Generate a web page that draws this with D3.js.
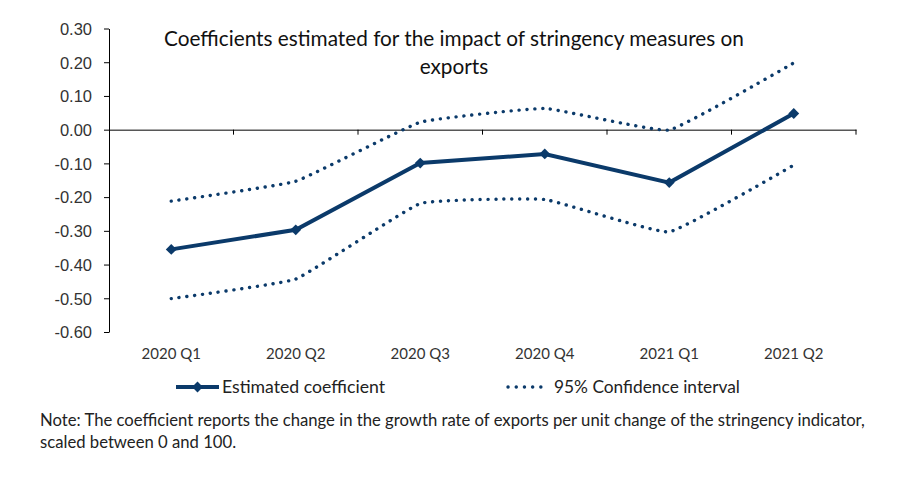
<!DOCTYPE html>
<html>
<head>
<meta charset="utf-8">
<script src="https://cdn.jsdelivr.net/npm/d3@7"></script>
<style>
  body { margin: 0; background: #fff; }
  svg { display: block; font-family: Lato, "Open Sans", sans-serif; }
</style>
</head>
<body>
<svg width="897" height="482"></svg>
<script>
// Chart data
const quarters = ["2020 Q1", "2020 Q2", "2020 Q3", "2020 Q4", "2021 Q1", "2021 Q2"];
const coefficient = [-0.355, -0.297, -0.099, -0.072, -0.157, 0.048];
const upperCI = [-0.212, -0.153, 0.022, 0.063, -0.001, 0.198];
const lowerCI = [-0.501, -0.443, -0.219, -0.207, -0.303, -0.105];
const yTicks = [-0.6, -0.5, -0.4, -0.3, -0.2, -0.1, 0, 0.1, 0.2, 0.3];

const navy = "#0b3a6a";
const chart = d3.select("svg");

// shrink/grow a text element's font so it spans the wanted width
function fitWidth(sel, target) {
  const size = parseFloat(sel.style("font-size"));
  const w = sel.node().getComputedTextLength();
  sel.style("font-size", (size * target / w).toFixed(2) + "px");
}

// Scales
const xScale = d3.scaleBand()
                 .domain(quarters)
                 .range([109, 856]);

const yScale = d3.scaleLinear()
                 .domain([-0.6, 0.3])
                 .range([332, 28.5]);

const xMid = d => xScale(d) + xScale.bandwidth() / 2;

// Y axis (hyphen minus like the original)
const yAxis = d3.axisLeft(yScale)
                .tickValues(yTicks)
                .tickFormat(d => d3.format(".2f")(d).replace("\u2212", "-"))
                .tickSize(5)
                .tickSizeOuter(0)
                .tickPadding(12);

const yG = chart.append("g")
    .attr("transform", "translate(109,0)")
    .call(yAxis);
yG.select(".domain").attr("stroke", "#000");
yG.selectAll(".tick line").attr("stroke", "#000");
yG.selectAll("text")
    .style("font-size", "16.5px")
    .attr("fill", "#333")
    .attr("dy", "0.35em");

// X axis drawn through zero, labels at the bottom
const xAxis = d3.axisBottom(xScale)
                .tickSize(5)
                .tickSizeOuter(0)
                .tickFormat("");

const xG = chart.append("g")
    .attr("transform", `translate(0,${yScale(0)})`)
    .call(xAxis);
xG.select(".domain").attr("stroke", "#000");
// ticks sit on the band boundaries
xG.selectAll(".tick").attr("transform", d => `translate(${xScale(d) + xScale.bandwidth()},0)`);
xG.selectAll(".tick line").attr("stroke", "#000");

chart.append("g")
  .selectAll("text")
  .data(quarters)
  .enter()
  .append("text")
    .text(d => d)
    .attr("x", d => xMid(d))
    .attr("y", 359)
    .style("text-anchor", "middle")
    .style("font-size", "15px")
    .attr("fill", "#333");

// Lines: confidence bands lightly smoothed, coefficient straight
const smooth = d3.line()
                 .x((d, i) => xMid(quarters[i]))
                 .y(d => yScale(d))
                 .curve(d3.curveCardinal.tension(0.7));

const straight = d3.line()
                   .x((d, i) => xMid(quarters[i]))
                   .y(d => yScale(d));

[upperCI, lowerCI].forEach(series => {
  chart.append("path")
      .attr("d", smooth(series))
      .attr("fill", "none")
      .attr("stroke", navy)
      .attr("stroke-width", 3.4)
      .attr("stroke-linecap", "round")
      .attr("stroke-dasharray", "0.1 7.8");
});

chart.append("path")
    .attr("d", straight(coefficient))
    .attr("fill", "none")
    .attr("stroke", navy)
    .attr("stroke-width", 4);

const diamond = d3.symbol().type(d3.symbolDiamond2).size(75);

chart.selectAll(".marker")
  .data(coefficient)
  .enter()
  .append("path")
    .attr("class", "marker")
    .attr("d", diamond)
    .attr("transform", (d, i) => `translate(${xMid(quarters[i])},${yScale(d)})`)
    .attr("fill", navy);

// Title
const title = chart.append("text")
    .attr("x", 454)
    .attr("y", 46)
    .style("text-anchor", "middle")
    .style("font-size", "18px")
    .attr("fill", "#111");
const t1 = title.append("tspan").attr("x", 454)
    .text("Coefficients estimated for the impact of stringency measures on");
title.append("tspan").attr("x", 454).attr("dy", 28).text("exports");
fitWidth(title, 580 * title.node().getComputedTextLength() / t1.node().getComputedTextLength());

// Legend
chart.append("line")
    .attr("x1", 176).attr("x2", 219)
    .attr("y1", 387).attr("y2", 387)
    .attr("stroke", navy)
    .attr("stroke-width", 4);
chart.append("path")
    .attr("d", diamond)
    .attr("transform", "translate(197.5,387)")
    .attr("fill", navy);
const leg1 = chart.append("text")
    .text("Estimated coefficient")
    .attr("x", 222)
    .attr("y", 393)
    .style("font-size", "16px")
    .attr("fill", "#222");
fitWidth(leg1, 163);

chart.append("line")
    .attr("x1", 508).attr("x2", 549)
    .attr("y1", 387).attr("y2", 387)
    .attr("stroke", navy)
    .attr("stroke-width", 3.4)
    .attr("stroke-linecap", "round")
    .attr("stroke-dasharray", "0.1 8.1");
const leg2 = chart.append("text")
    .text("95% Confidence interval")
    .attr("x", 554)
    .attr("y", 393)
    .style("font-size", "16px")
    .attr("fill", "#222");
fitWidth(leg2, 186);

// Note
const note = chart.append("text")
    .attr("x", 40)
    .attr("y", 426)
    .style("font-size", "15px")
    .attr("fill", "#222");
const n1 = note.append("tspan").attr("x", 40)
    .text("Note: The coefficient reports the change in the growth rate of exports per unit change of the stringency indicator,");
note.append("tspan").attr("x", 40).attr("dy", 22)
    .text("scaled between 0 and 100.");
fitWidth(note, 825 * note.node().getComputedTextLength() / n1.node().getComputedTextLength());
</script>
</body>
</html>
